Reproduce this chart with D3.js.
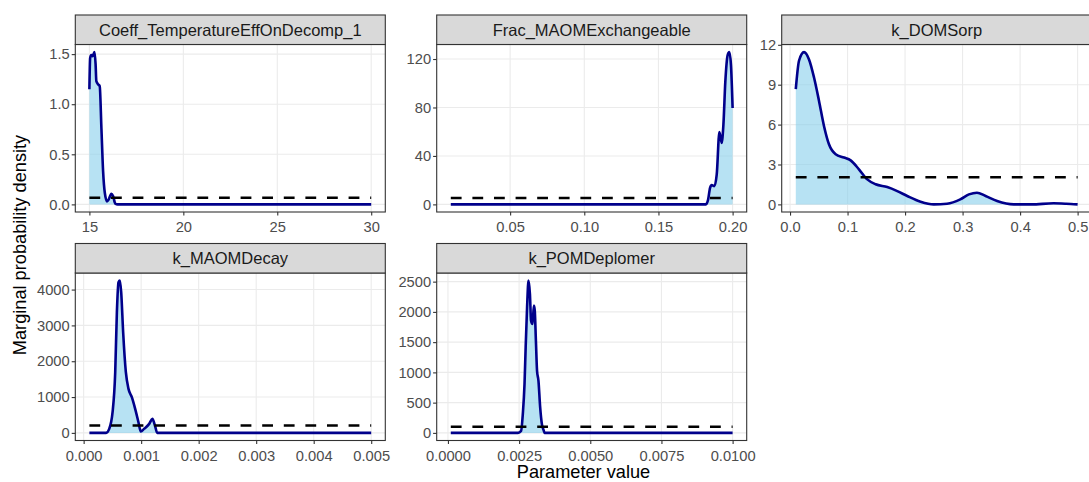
<!DOCTYPE html>
<html>
<head>
<meta charset="utf-8">
<script src="https://cdn.jsdelivr.net/npm/d3@7"></script>
<style>
body { margin: 0; background: #fff; }
text { font-family: "Liberation Sans", Arial, sans-serif; }
</style>
</head>
<body>
<script>
var fullWidth = 1089;
var fullHeight = 482;

var panelWidth = 310;
var stripHeight = 29.5;
var plotHeight = 167.5;
var colLeft = [75.3, 436.7, 781.7];
var rowTop = [15, 243.5];

// facet names
var panelNames = ["Coeff_TemperatureEffOnDecomp_1", "Frac_MAOMExchangeable",
                  "k_DOMSorp", "k_MAOMDecay", "k_POMDeplomer"];

// uniform prior bounds for each parameter
var priorLo = [15, 0.01, 0.01, 0.0001, 0.0001];
var priorHi = [30, 0.2, 0.5, 0.005, 0.01];

// posterior density curves
var tempX = [15.00, 15.04, 15.10, 15.17, 15.27, 15.33, 15.37, 15.46, 15.55, 15.64,
             15.73, 15.82, 15.94, 16.03, 16.17, 16.26, 16.38, 16.50, 30];
var tempY = [1.15, 1.46, 1.49, 1.48, 1.52, 1.40, 1.23, 1.20, 1.18, 0.76,
             0.33, 0.116, 0.03, 0.05, 0.106, 0.083, 0.007, 0, 0];

var fracX = [0.01, 0.182, 0.1835, 0.1848, 0.1859, 0.1877, 0.1893, 0.1911, 0.1926,
             0.1938, 0.1951, 0.1967, 0.1978, 0.1989, 0.2];
var fracY = [0, 0, 4, 13.7, 15.9, 15.1, 24.7, 59.8, 50.8,
             65.9, 101.5, 123.5, 125.7, 115, 79.6];

var domX = [0.01, 0.0156, 0.0243, 0.033, 0.0417, 0.0503, 0.059, 0.0677, 0.0793, 0.0938,
            0.1054, 0.1198, 0.1343, 0.1488, 0.169, 0.1864, 0.2038, 0.227, 0.25, 0.273,
            0.296, 0.311, 0.325, 0.34, 0.36, 0.389, 0.42, 0.458, 0.48, 0.5];
var domY = [8.66, 10.8, 11.45, 10.9, 9.54, 7.8, 5.9, 4.52, 3.77, 3.52,
            3.31, 2.64, 1.88, 1.51, 1.3, 1.0, 0.63, 0.2, 0, 0.05,
            0.38, 0.75, 0.88, 0.63, 0.25, 0, 0, 0.08, 0.05, 0];

var maomX = [0.0001, 0.00039, 0.000445, 0.000503, 0.000549, 0.000578, 0.000606, 0.00063,
             0.000653, 0.000687, 0.000734, 0.00078, 0.000838, 0.000896, 0.000953, 0.000994,
             0.00105, 0.00114, 0.001195, 0.00124, 0.00128, 0.005];
var maomY = [0, 0, 112, 577, 1693, 3367, 4204, 4250,
             3925, 2809, 1693, 1228, 996, 670, 298, 39,
             112, 251, 391, 206, 0, 0];

var pomX = [0.0001, 0.00246, 0.00257, 0.00263, 0.00269, 0.00273, 0.00278, 0.00283,
            0.00288, 0.00292, 0.00297, 0.00302, 0.00305, 0.00309, 0.00313, 0.00318,
            0.00324, 0.0033, 0.00336, 0.0034, 0.01];
var pomY = [0, 0, 33, 310, 806, 1414, 2076, 2517,
            2296, 1854, 1800, 2103, 2020, 1523, 1026, 861,
            420, 144, 45, 0, 0];

var curvesX = [tempX, fracX, domX, maomX, pomX];
var curvesY = [tempY, fracY, domY, maomY, pomY];

// tick labels
var xTickLabels = [["15", "20", "25", "30"],
                   ["0.05", "0.10", "0.15", "0.20"],
                   ["0.0", "0.1", "0.2", "0.3", "0.4", "0.5"],
                   ["0.000", "0.001", "0.002", "0.003", "0.004", "0.005"],
                   ["0.0000", "0.0025", "0.0050", "0.0075", "0.0100"]];
var yTickLabels = [["0.0", "0.5", "1.0", "1.5"],
                   ["0", "40", "80", "120"],
                   ["0", "3", "6", "9", "12"],
                   ["0", "1000", "2000", "3000", "4000"],
                   ["0", "500", "1000", "1500", "2000", "2500"]];

function expand(lo, hi) {
    var d = (hi - lo) * 0.05;
    return [lo - d, hi + d];
}

var svg = d3.select("body")
            .append("svg")
            .attr("width", fullWidth)
            .attr("height", fullHeight);

panelNames.forEach(function(name, i) { drawPanel(i); });

function drawPanel(i) {
    var pLeft = colLeft[i % 3];
    var pTop = rowTop[Math.floor(i / 3)] + stripHeight;
    var pBottom = pTop + plotHeight;

    var pts = curvesX[i].map(function(x, j) { return {x: x, y: curvesY[i][j]}; });
    var prior = 1 / (priorHi[i] - priorLo[i]);

    var xScale = d3.scaleLinear()
                   .domain(expand(priorLo[i], priorHi[i]))
                   .range([pLeft, pLeft + panelWidth]);
    var yScale = d3.scaleLinear()
                   .domain(expand(0, Math.max(d3.max(curvesY[i]), prior)))
                   .range([pBottom, pTop]);

    var xVals = xTickLabels[i].map(Number);
    var yVals = yTickLabels[i].map(Number);

    var g = svg.append("g");

    // grid
    g.selectAll(".gx").data(xVals).enter().append("line")
     .attr("x1", xScale).attr("x2", xScale)
     .attr("y1", pTop).attr("y2", pBottom)
     .style("stroke", "#ebebeb").style("stroke-width", 1.1);
    g.selectAll(".gy").data(yVals).enter().append("line")
     .attr("x1", pLeft).attr("x2", pLeft + panelWidth)
     .attr("y1", yScale).attr("y2", yScale)
     .style("stroke", "#ebebeb").style("stroke-width", 1.1);

    // density area and line
    var area = d3.area()
                 .x(function(d) { return xScale(d.x); })
                 .y0(yScale(0))
                 .y1(function(d) { return yScale(d.y); })
                 .curve(d3.curveMonotoneX);
    var line = d3.line()
                 .x(function(d) { return xScale(d.x); })
                 .y(function(d) { return yScale(d.y); })
                 .curve(d3.curveMonotoneX);

    g.append("path").datum(pts)
     .attr("d", area)
     .style("fill", "#87ceeb").style("fill-opacity", 0.6);
    g.append("path").datum(pts)
     .attr("d", line)
     .style("fill", "none").style("stroke", "#00008b")
     .style("stroke-width", 2.6).style("stroke-linejoin", "round");

    // prior density
    g.append("line")
     .attr("x1", xScale(priorLo[i])).attr("x2", xScale(priorHi[i]))
     .attr("y1", yScale(prior)).attr("y2", yScale(prior))
     .style("stroke", "#000").style("stroke-width", 2.6)
     .style("stroke-dasharray", "10.8,10.8");

    // border
    g.append("rect")
     .attr("x", pLeft).attr("y", pTop)
     .attr("width", panelWidth).attr("height", plotHeight)
     .style("fill", "none").style("stroke", "#333").style("stroke-width", 1.1);

    // strip
    g.append("rect")
     .attr("x", pLeft).attr("y", pTop - stripHeight)
     .attr("width", panelWidth).attr("height", stripHeight)
     .style("fill", "#d9d9d9").style("stroke", "#333").style("stroke-width", 1.1);
    g.append("text")
     .attr("x", pLeft + panelWidth / 2)
     .attr("y", pTop - stripHeight / 2)
     .attr("dy", "0.36em")
     .style("text-anchor", "middle")
     .style("font-size", "16.5px")
     .style("fill", "#1a1a1a")
     .text(panelNames[i]);

    // axes
    var xAxis = d3.axisBottom(xScale)
                  .tickValues(xVals)
                  .tickFormat(function(d, j) { return xTickLabels[i][j]; })
                  .tickSize(3.6).tickPadding(6);
    var yAxis = d3.axisLeft(yScale)
                  .tickValues(yVals)
                  .tickFormat(function(d, j) { return yTickLabels[i][j]; })
                  .tickSize(3.6).tickPadding(2);

    var ax = g.append("g")
              .attr("transform", "translate(0," + pBottom + ")")
              .call(xAxis);
    var ay = g.append("g")
              .attr("transform", "translate(" + pLeft + ",0)")
              .call(yAxis);
    [ax, ay].forEach(function(a) {
        a.select(".domain").remove();
        a.selectAll("line").style("stroke", "#333").style("stroke-width", 1.1);
        a.selectAll("text")
         .style("fill", "#4d4d4d")
         .style("font-size", "14.7px")
         .style("font-family", "'Liberation Sans', Arial, sans-serif");
    });
}

// axis titles
svg.append("text")
   .attr("x", 583.5)
   .attr("y", 478)
   .style("text-anchor", "middle")
   .style("font-size", "18.2px")
   .style("fill", "#000")
   .text("Parameter value");

svg.append("text")
   .attr("transform", "rotate(-90)")
   .attr("x", -245)
   .attr("y", 26)
   .style("text-anchor", "middle")
   .style("font-size", "18.2px")
   .style("fill", "#000")
   .text("Marginal probability density");
</script>
</body>
</html>
